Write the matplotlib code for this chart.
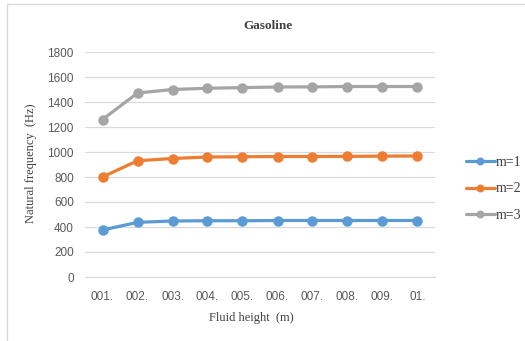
import matplotlib
matplotlib.use("Agg")
import matplotlib.pyplot as plt
from matplotlib.patches import Rectangle

# Fluid height labels and natural frequencies for the first three modes
heights = ["001.", "002.", "003.", "004.", "005.", "006.", "007.", "008.", "009.", "01."]
m1 = [376, 437, 448, 450, 450, 452, 452, 452, 452, 452]
m2 = [800, 930, 948, 960, 962, 964, 964, 965, 967, 968]
m3 = [1260, 1472, 1500, 1510, 1515, 1520, 1521, 1524, 1524, 1524]
series = [("m=1", m1, "#5B9BD5"), ("m=2", m2, "#ED7D31"), ("m=3", m3, "#A5A5A5")]
yticks = [0, 200, 400, 600, 800, 1000, 1200, 1400, 1600, 1800]

W, H = 525, 341
fig = plt.figure(figsize=(W / 100, H / 100), dpi=100)
fig.patch.set_facecolor("white")

# Chart frame
fig.patches.append(Rectangle((7 / W, -0.05), 1.1, 1 - 4 / H + 0.05,
                             transform=fig.transFigure, fill=False,
                             edgecolor="#D9D9D9", linewidth=1.0))

ax = fig.add_axes([85 / W, 64 / H, 350 / W, 225 / H])
x = list(range(len(heights)))
for name, vals, col in series:
    ax.plot(x, vals, color=col, linewidth=2.3, marker="o", markersize=6.5,
            label=name, solid_capstyle="round", zorder=3)

ax.set_xlim(-0.5, len(heights) - 0.5)
ax.set_ylim(0, 1800)
ax.set_yticks(yticks)
ax.set_xticks(x)
ax.set_xticklabels(heights)
ax.grid(axis="y", color="#D9D9D9", linewidth=0.9)
ax.set_axisbelow(True)
for s in ["top", "right", "left"]:
    ax.spines[s].set_visible(False)
ax.spines["bottom"].set_color("#D9D9D9")
ax.tick_params(length=0, colors="#595959", labelsize=8.5)
ax.tick_params(axis="y", pad=8)
ax.tick_params(axis="x", pad=10)
for lab in ax.get_xticklabels() + ax.get_yticklabels():
    lab.set_fontfamily("Liberation Sans")

serif = "Liberation Serif"
fig.text(268 / W, 1 - 26 / H, "Gasoline", ha="center", va="center",
         fontsize=9.5, fontweight="bold", family=serif, color="#404040")
fig.text(251 / W, 1 - 318 / H, "Fluid height  (m)", ha="center", va="center",
         fontsize=9, family=serif, color="#404040")
fig.text(31 / W, 1 - 163 / H, "Natural frequency  (Hz)", ha="center", va="center",
         rotation=90, fontsize=9, family=serif, color="#404040")

leg = fig.legend(loc="center left", bbox_to_anchor=(453 / W, 1 - 189 / H),
                 frameon=False, handlelength=2.1, handletextpad=0.1,
                 labelspacing=0.95, markerscale=0.72,
                 prop={"family": serif, "size": 10})
for t in leg.get_texts():
    t.set_color("#404040")

fig.savefig("out.png", dpi=100)
